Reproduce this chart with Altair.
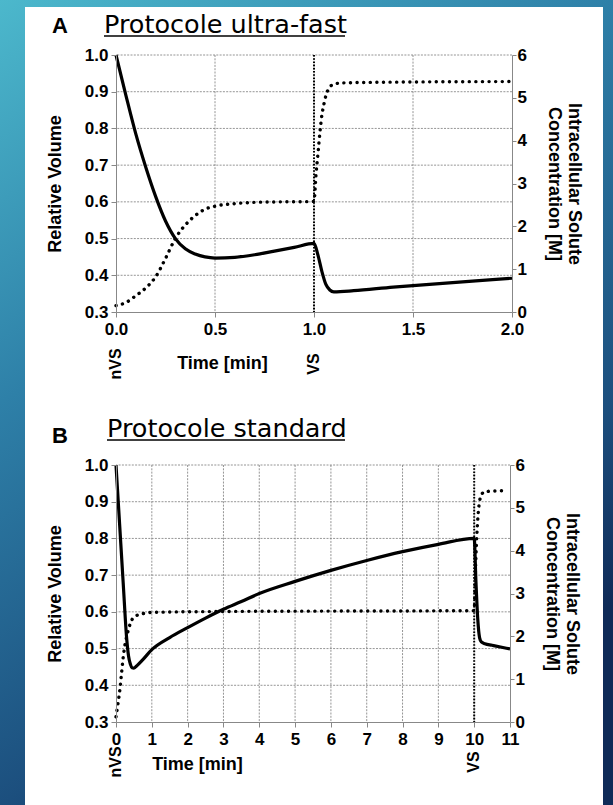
import altair as alt
import pandas as pd

# ---------------- data ----------------
# Panel A : "Protocole ultra-fast"
A_VOL_T = [0.0, 0.05, 0.1, 0.15, 0.2, 0.25, 0.3, 0.35, 0.4, 0.45, 0.5, 0.6, 0.7, 0.8, 0.9, 1.0,
           1.02, 1.04, 1.06, 1.08, 1.1, 1.2, 1.4, 1.6, 1.8, 2.0]
A_VOL_V = [1.0, 0.89, 0.785, 0.695, 0.615, 0.548, 0.50, 0.472, 0.458, 0.45, 0.447, 0.449, 0.456,
           0.466, 0.476, 0.487, 0.455, 0.41, 0.375, 0.36, 0.355, 0.358, 0.368, 0.376, 0.384, 0.392]
A_CONC_T = [0.0, 0.05, 0.1, 0.15, 0.2, 0.25, 0.3, 0.35, 0.4, 0.45, 0.5, 0.6, 0.7, 0.8, 1.0,
            1.01, 1.02, 1.03, 1.04, 1.05, 1.06, 1.08, 1.1, 1.15, 1.5, 2.0]
A_CONC_C = [0.15, 0.22, 0.38, 0.56, 0.82, 1.25, 1.72, 2.03, 2.25, 2.4, 2.47, 2.53, 2.56, 2.57, 2.58,
            3.2, 3.7, 4.2, 4.6, 4.85, 5.05, 5.25, 5.32, 5.35, 5.37, 5.38]

# Panel B : "Protocole standard"
B_VOL_T = [0.0, 0.1, 0.2, 0.3, 0.35, 0.4, 0.45, 0.5, 0.6, 0.75, 1.0, 1.5, 2.0, 2.5, 3.0, 3.5, 4.0,
           5.0, 6.0, 7.0, 8.0, 9.0, 10.0, 10.05, 10.1, 10.15, 10.2, 10.3, 10.5, 10.8, 11.0]
B_VOL_V = [1.0, 0.84, 0.68, 0.525, 0.48, 0.458, 0.448, 0.447, 0.455, 0.47, 0.497, 0.53, 0.557,
           0.583, 0.607, 0.628, 0.65, 0.683, 0.713, 0.74, 0.764, 0.784, 0.80, 0.68, 0.58, 0.53,
           0.518, 0.513, 0.509, 0.503, 0.499]
B_CONC_T = [0.0, 0.05, 0.1, 0.15, 0.2, 0.25, 0.3, 0.4, 0.5, 0.75, 1.0, 3.0, 10.0,
            10.03, 10.06, 10.09, 10.12, 10.15, 10.2, 10.3, 10.9]
B_CONC_C = [0.12, 0.4, 0.7, 1.1, 1.5, 1.8, 2.0, 2.3, 2.45, 2.53, 2.56, 2.58, 2.6,
            3.4, 4.1, 4.6, 4.95, 5.15, 5.3, 5.38, 5.4]

A_X_TICKS = [0.0, 0.5, 1.0, 1.5, 2.0]
B_X_TICKS = [0, 1, 2, 3, 4, 5, 6, 7, 8, 9, 10, 11]
VOL_TICKS = [0.3, 0.4, 0.5, 0.6, 0.7, 0.8, 0.9, 1.0]
CONC_TICKS = [0, 1, 2, 3, 4, 5, 6]
MARKER_LABELS = ["nVS", "VS"]
A_MARKER_T = [0.0, 1.0]
B_MARKER_T = [0.0, 10.0]
A_VS = [1.0]
B_VS = [10.0]
TITLE_A = ["A", "Protocole ultra-fast"]
TITLE_B = ["B", "Protocole standard"]
X_TITLE = "Time [min]"
Y_TITLE = "Relative Volume"
Y2_TITLE = ["Intracellular Solute", "Concentration [M]"]

# ---------------- styling / layout ----------------
FONT = "Liberation Sans"
TFONT = "DejaVu Sans"
CANVAS_W, CANVAS_H = 613, 805
ORIGIN_X, ORIGIN_Y = 116, 55
GRID = dict(color="#7a7a7a", strokeWidth=0.8, strokeDash=[2, 1.3])


def panel(vol_t, vol_v, conc_t, conc_c, xticks, xfmt, vs, marker_t, titles, width, height,
          title_y, letter_y, underline_y, title_x, time_x, time_y, marker_y, background):
    xs = alt.Scale(domain=[xticks[0], xticks[-1]], nice=False, zero=False)
    ys = alt.Scale(domain=[0.3, 1.0], nice=False, zero=False)
    cs = alt.Scale(domain=[0, 6], nice=False, zero=False)
    xaxis = alt.Axis(values=xticks, format=xfmt, title=X_TITLE, titleX=time_x, titleY=time_y,
                     titleAlign="center", titleBaseline="middle", grid=False, tickSize=5,
                     labelPadding=4, labelFlush=False, labelOverlap=False, zindex=1)
    yaxis = alt.Axis(orient="left", values=VOL_TICKS, format=".1f", title=Y_TITLE, titleX=-61,
                     titleY=height / 2, titleAngle=270, titleAlign="center",
                     titleBaseline="middle", grid=False, tickSize=5, labelPadding=3, zindex=1)
    caxis = alt.Axis(orient="right", values=CONC_TICKS, format="d", title=Y2_TITLE,
                     titleAngle=90, titleX=61, titleY=height / 2, titleAlign="center",
                     titleBaseline="middle", titleLineHeight=20, grid=False, tickSize=4,
                     labelPadding=1, zindex=1)

    def X(field):
        return alt.X(field, scale=xs, axis=xaxis)

    one = pd.DataFrame({"k": [0]})
    layers = []
    if background:
        grad = alt.LinearGradient(
            gradient="linear", x1=0, y1=0, x2=0.5, y2=1,
            stops=[alt.GradientStop(color="#4cb8cc", offset=0),
                   alt.GradientStop(color="#2e80a8", offset=0.4),
                   alt.GradientStop(color="#1c4f7e", offset=0.8),
                   alt.GradientStop(color="#0f2b58", offset=1)])
        layers.append(alt.Chart(one).mark_rect(fill=grad, strokeWidth=0).encode(
            x=alt.value(-ORIGIN_X), x2=alt.value(CANVAS_W - ORIGIN_X),
            y=alt.value(-ORIGIN_Y), y2=alt.value(CANVAS_H - ORIGIN_Y)))
        layers.append(alt.Chart(one).mark_rect(fill="white", strokeWidth=0).encode(
            x=alt.value(25 - ORIGIN_X), x2=alt.value(603 - ORIGIN_X),
            y=alt.value(7 - ORIGIN_Y), y2=alt.value(CANVAS_H - ORIGIN_Y)))
    # grid
    layers.append(alt.Chart(pd.DataFrame({"t": xticks[1:-1]})).mark_rule(**GRID).encode(
        x=X("t:Q")))
    layers.append(alt.Chart(pd.DataFrame({"g": VOL_TICKS[1:]})).mark_rule(**GRID).encode(
        y=alt.Y("g:Q", scale=ys, axis=None)))
    # VS line
    layers.append(alt.Chart(pd.DataFrame({"t": vs})).mark_rule(
        color="black", strokeWidth=2, strokeDash=[1.6, 1.6]).encode(x=X("t:Q")))
    # relative volume
    layers.append(alt.Chart(pd.DataFrame({"t": vol_t, "v": vol_v})).mark_line(
        color="black", strokeWidth=3.2, interpolate="monotone").encode(
        x=X("t:Q"), y=alt.Y("v:Q", scale=ys, axis=yaxis)))
    # nVS / VS labels
    layers.append(alt.Chart(pd.DataFrame({"t": marker_t, "lab": MARKER_LABELS})).mark_text(
        angle=270, align="center", baseline="middle", font=FONT, fontSize=16,
        fontWeight="bold", color="black").encode(
        x=X("t:Q"), y=alt.value(height + marker_y), text="lab:N"))
    # titles
    layers.append(alt.Chart(pd.DataFrame({"lab": [titles[0]]})).mark_text(
        align="left", baseline="alphabetic", font=FONT, fontSize=22, fontWeight="bold",
        color="black").encode(x=alt.value(-64), y=alt.value(letter_y), text="lab:N"))
    layers.append(alt.Chart(pd.DataFrame({"lab": [titles[1]]})).mark_text(
        align="left", baseline="alphabetic", font=TFONT, fontSize=25.5,
        color="black").encode(x=alt.value(title_x), y=alt.value(title_y), text="lab:N"))
    layers.append(alt.Chart(one).mark_rule(color="black", strokeWidth=1.6).encode(
        x=alt.value(title_x), x2=alt.value(229), y=alt.value(underline_y)))
    # intracellular solute concentration (right axis)
    layers.append(alt.Chart(pd.DataFrame({"t": conc_t, "c": conc_c})).mark_line(
        color="black", strokeWidth=3.4, strokeDash=[0.1, 6.5], strokeCap="round",
        interpolate="monotone").encode(
        x=X("t:Q"), y=alt.Y("c:Q", scale=cs, axis=caxis)))
    return alt.layer(*layers).resolve_scale(y="independent").properties(
        width=width, height=height)


pa = panel(A_VOL_T, A_VOL_V, A_CONC_T, A_CONC_C, A_X_TICKS, ".1f", A_VS, A_MARKER_T, TITLE_A,
           396, 257, title_y=-22, letter_y=-22, underline_y=-19, title_x=-12,
           time_x=106, time_y=51, marker_y=52, background=True)
pb = panel(B_VOL_T, B_VOL_V, B_CONC_T, B_CONC_C, B_X_TICKS, "d", B_VS, B_MARKER_T, TITLE_B,
           394, 257, title_y=-28, letter_y=-22, underline_y=-25, title_x=-9,
           time_x=81, time_y=42, marker_y=40, background=False)

chart = alt.vconcat(pa, pb, spacing=153, bounds="flush").properties(
    padding=0, background="#2e80a8"
).configure_view(strokeWidth=0).configure_axis(
    labelFont=FONT, labelFontSize=17, labelFontWeight="bold", labelColor="black",
    titleFont=FONT, titleFontSize=18, titleFontWeight="bold", titleColor="black",
    domainColor="#888888", tickColor="#888888", domainWidth=1, tickWidth=1)

chart.save("out.html", embed_options={"renderer": "svg", "actions": False})
